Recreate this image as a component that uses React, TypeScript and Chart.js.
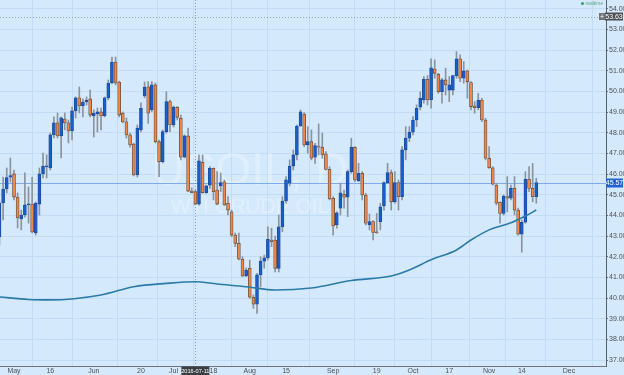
import React, { useEffect, useRef } from 'react';
import { Chart, registerables } from 'chart.js';

Chart.register(...registerables);

// ---- Data (daily candles, index 0 = 2016-04-26 ... index 148 = 2016-11-18) ----
const OPEN = [
  42.96, 44.60, 45.28, 45.85, 46.01, 44.89, 43.83, 44.02, 44.51, 44.55,
  43.15, 44.55, 46.01, 46.35, 46.30, 47.90, 48.48, 47.85, 48.67, 48.48,
  48.09, 49.06, 49.69, 49.30, 49.49, 49.64, 48.82, 48.91, 49.01, 48.82,
  49.69, 50.41, 51.43, 50.46, 48.96, 48.53, 47.90, 47.46, 45.96, 48.14,
  49.78, 50.23, 49.11, 50.32, 47.57, 46.60, 48.06, 49.51, 48.38, 49.24,
  48.70, 46.82, 47.85, 45.18, 45.15, 44.55, 46.57, 45.10, 45.47, 46.28,
  45.23, 45.43, 45.63, 44.59, 44.18, 43.05, 42.65, 41.88, 41.07, 41.44,
  40.04, 39.70, 41.12, 41.79, 41.95, 42.81, 42.81, 41.44, 43.45, 44.70,
  45.56, 46.39, 46.93, 48.33, 48.91, 47.41, 47.57, 46.82, 47.36, 47.30,
  46.98, 46.23, 44.83, 43.54, 44.35, 45.02, 44.88, 46.12, 47.30, 45.68,
  46.04, 44.99, 43.55, 43.70, 43.21, 43.70, 44.46, 45.59, 46.07, 44.66,
  45.59, 44.91, 47.17, 47.74, 48.03, 48.62, 49.24, 49.59, 50.59, 49.59,
  51.09, 50.83, 49.99, 50.56, 50.07, 50.07, 50.77, 51.58, 50.64, 51.00,
  50.43, 49.31, 49.22, 49.59, 48.62, 46.77, 46.31, 45.47, 44.64, 44.10,
  44.91, 44.83, 45.31, 44.26, 43.09, 43.67, 45.75, 45.31, 44.91,
];
const HIGH = [
  44.70, 45.86, 46.30, 46.78, 46.20, 45.09, 44.26, 46.06, 45.38, 45.86,
  44.65, 46.30, 47.02, 46.93, 47.99, 48.77, 48.96, 48.77, 48.96, 48.62,
  49.25, 49.74, 50.22, 49.64, 49.74, 50.07, 49.11, 49.20, 49.20, 49.74,
  50.56, 51.67, 51.67, 50.50, 49.01, 48.72, 47.99, 47.50, 48.38, 49.45,
  50.46, 50.48, 50.48, 50.41, 47.65, 48.14, 49.99, 49.59, 49.30, 49.27,
  48.86, 47.90, 48.23, 45.33, 45.23, 46.93, 46.93, 45.47, 46.36, 46.30,
  46.12, 46.06, 45.72, 44.91, 44.26, 43.15, 43.15, 42.00, 41.46, 41.84,
  40.15, 41.20, 42.00, 42.08, 43.45, 43.38, 43.00, 44.02, 44.91, 45.88,
  46.69, 47.17, 48.38, 49.11, 48.98, 48.30, 48.14, 47.49, 48.43, 47.99,
  47.09, 46.36, 44.91, 44.18, 45.56, 45.23, 46.20, 47.74, 47.33, 46.52,
  46.12, 45.07, 44.07, 43.75, 44.10, 44.59, 45.63, 46.52, 46.20, 46.12,
  45.72, 47.33, 48.30, 48.30, 48.78, 49.35, 49.99, 50.72, 50.77, 51.58,
  51.53, 50.88, 50.64, 51.13, 50.72, 50.80, 51.93, 51.77, 51.45, 51.04,
  50.48, 49.51, 49.91, 49.67, 48.70, 47.33, 46.36, 45.56, 44.66, 44.99,
  45.88, 45.47, 45.88, 44.35, 43.78, 46.12, 46.36, 46.52, 45.80,
];
const LOW = [
  42.57, 43.78, 45.09, 45.62, 44.75, 43.39, 43.30, 43.92, 43.63, 43.15,
  43.05, 44.02, 45.81, 45.81, 46.20, 47.75, 47.75, 46.78, 48.14, 47.51,
  47.65, 48.72, 48.96, 48.77, 49.35, 48.77, 47.80, 48.04, 48.14, 48.77,
  49.59, 50.37, 50.32, 48.77, 48.48, 47.75, 47.31, 45.91, 45.86, 48.04,
  49.69, 48.46, 49.02, 47.51, 45.88, 46.54, 47.98, 48.06, 48.28, 48.62,
  46.69, 46.78, 45.15, 45.09, 44.51, 44.50, 45.07, 45.07, 45.31, 44.75,
  44.51, 45.15, 44.48, 44.02, 42.97, 42.49, 41.84, 41.03, 41.03, 39.99,
  39.50, 39.26, 40.55, 41.44, 41.84, 42.49, 41.26, 41.26, 43.21, 44.59,
  45.43, 46.20, 46.69, 48.30, 47.33, 47.01, 46.69, 46.52, 46.93, 46.77,
  46.20, 44.75, 43.05, 43.38, 44.02, 44.35, 43.94, 46.04, 45.63, 45.63,
  44.75, 43.54, 43.30, 42.81, 43.13, 43.30, 44.26, 45.56, 44.26, 44.59,
  44.26, 44.75, 46.69, 47.57, 47.90, 48.30, 49.11, 49.43, 49.35, 49.19,
  50.64, 49.91, 49.43, 49.83, 49.51, 49.83, 50.64, 50.48, 50.40, 49.67,
  49.11, 48.95, 49.11, 48.54, 46.69, 46.28, 45.47, 44.51, 43.62, 44.02,
  44.17, 44.75, 44.02, 43.05, 42.22, 43.62, 45.15, 44.66, 44.59,
];
const CLOSE = [
  44.60, 45.28, 45.83, 45.93, 44.89, 43.88, 44.02, 44.51, 44.55, 43.20,
  44.60, 46.01, 46.39, 46.40, 47.90, 48.48, 47.85, 48.72, 48.48, 48.09,
  49.06, 49.69, 49.30, 49.49, 49.59, 48.86, 48.96, 49.01, 48.82, 49.69,
  50.41, 51.43, 50.41, 48.86, 48.53, 47.90, 47.41, 45.96, 48.23, 49.19,
  50.21, 48.95, 50.32, 47.57, 46.60, 48.06, 49.51, 48.38, 49.24, 48.75,
  46.82, 47.85, 45.18, 45.10, 44.55, 46.64, 45.10, 45.43, 46.28, 45.15,
  44.55, 45.59, 44.51, 44.26, 43.05, 42.65, 41.88, 41.07, 41.36, 40.04,
  39.70, 41.12, 41.79, 41.95, 42.84, 42.73, 41.44, 43.45, 44.70, 45.72,
  46.39, 46.93, 48.33, 49.02, 47.41, 47.57, 46.77, 47.38, 47.30, 46.93,
  46.23, 44.80, 43.49, 44.13, 45.10, 44.88, 46.12, 47.30, 45.72, 46.04,
  44.99, 43.62, 43.70, 43.18, 43.16, 44.42, 45.59, 46.07, 44.66, 45.59,
  44.91, 47.17, 47.74, 48.03, 48.62, 49.19, 49.67, 50.59, 49.59, 51.15,
  50.88, 49.99, 50.56, 50.32, 50.32, 50.77, 51.58, 50.64, 51.00, 50.48,
  49.27, 49.22, 49.59, 48.62, 46.77, 46.31, 45.51, 44.59, 44.10, 44.94,
  44.83, 45.31, 44.26, 43.09, 43.67, 45.75, 45.31, 44.91, 45.59,
];

// 200-period moving average, read at selected candle indices
const MA_INDEX = [0, 8, 14, 28, 37, 46, 54, 60, 68, 76, 86, 97, 108, 113, 119, 126, 130, 135, 141, 145, 148];
const MA_VALUE = [40.05, 39.93, 39.91, 40.15, 40.55, 40.71, 40.79, 40.68, 40.55, 40.39, 40.49, 40.85, 41.07, 41.36, 41.85, 42.33, 42.81, 43.30, 43.64, 43.97, 44.26];

const X_TICK_INDEX = [4, 14, 26, 39, 48, 59, 69, 79, 92, 104, 114, 124, 135, 144, 157];
const X_TICK_LABEL = ['May', '16', 'Jun', '20', 'Jul', '18', 'Aug', '15', 'Sep', '19', 'Oct', '17', 'Nov', '14', 'Dec'];
const Y_TICKS = [37, 38, 39, 40, 41, 42, 43, 44, 45, 46, 47, 48, 49, 50, 51, 52, 53, 54];

const X_MIN = 0.14;
const X_MAX = 167.22;
const Y_MIN = 36.71;
const Y_MAX = 54.43;

const LAST_PRICE = 45.57;
const MARK_PRICE = 53.63;
const CROSS_INDEX = 54;
const CROSS_LABEL = '2016-07-11';
const WATERMARK = 'USOIL, D';
const WATERMARK_SUB = 'WTI CRUDE OIL';

// ---- Styles ----
const BG = '#d5e9fd';
const GRID = '#c2dcf6';
const UP_FILL = '#1c5cc6';
const UP_BORDER = '#174a9e';
const DOWN_FILL = '#f0874a';
const DOWN_BORDER = '#66503f';
const WICK = '#8b939c';
const MA_COLOR = '#2b7ba6';
const FONT = '"Liberation Sans", Arial, sans-serif';
const TEXT = '#4c4f54';

const overlay = {
  id: 'overlay',
  beforeDatasetsDraw(chart: any) {
    const { ctx, chartArea: a, scales } = chart;
    const x = scales.x;
    const y = scales.y;
    ctx.save();
    // watermark
    const cx = a.left + 250;
    ctx.fillStyle = 'rgba(255,255,255,0.28)';
    ctx.textAlign = 'center';
    ctx.textBaseline = 'alphabetic';
    ctx.font = `46px ${FONT}`;
    ctx.fillText(WATERMARK, cx, 185);
    ctx.font = `21px ${FONT}`;
    ctx.fillText(WATERMARK_SUB, cx, 213);

    // last price line
    const py = Math.round(y.getPixelForValue(LAST_PRICE)) + 0.5;
    ctx.strokeStyle = '#7eaaec';
    ctx.lineWidth = 1;
    ctx.beginPath();
    ctx.moveTo(a.left, py);
    ctx.lineTo(a.right, py);
    ctx.stroke();

    // mark line
    const my = Math.round(y.getPixelForValue(MARK_PRICE)) + 0.5;
    ctx.strokeStyle = '#9aa3ad';
    ctx.setLineDash([1, 2]);
    ctx.beginPath();
    ctx.moveTo(a.left, my);
    ctx.lineTo(a.right, my);
    ctx.stroke();

    // crosshair
    const cxp = Math.round(x.getPixelForValue(CROSS_INDEX)) + 0.5;
    ctx.strokeStyle = 'rgba(110,120,132,0.7)';
    ctx.beginPath();
    ctx.moveTo(cxp, a.top);
    ctx.lineTo(cxp, a.bottom);
    ctx.stroke();
    ctx.restore();
  },
  afterDraw(chart: any) {
    const { ctx, chartArea: a, scales } = chart;
    const x = scales.x;
    const y = scales.y;
    ctx.save();
    ctx.textBaseline = 'middle';
    ctx.textAlign = 'center';
    ctx.font = `7px ${FONT}`;

    // last price box
    const py = y.getPixelForValue(LAST_PRICE);
    ctx.fillStyle = '#2163d6';
    ctx.fillRect(a.right, py - 4.5, 17, 9);
    ctx.fillStyle = '#ffffff';
    ctx.fillText(LAST_PRICE.toFixed(2), a.right + 8.5, py + 0.5);

    // mark price box
    const my = y.getPixelForValue(MARK_PRICE);
    ctx.fillStyle = '#6e7379';
    ctx.fillRect(a.right - 7, my - 3.5, 6, 7);
    ctx.fillStyle = '#4b4f55';
    ctx.fillRect(a.right - 1, my - 4, 18, 8);
    ctx.fillStyle = '#ffffff';
    ctx.fillText('+', a.right - 4, my + 0.5);
    ctx.fillText(MARK_PRICE.toFixed(2), a.right + 8, my + 0.5);

    // crosshair date label
    const cxp = x.getPixelForValue(CROSS_INDEX);
    ctx.font = `5.6px ${FONT}`;
    ctx.fillStyle = '#3b3e43';
    ctx.fillRect(cxp - 14, a.bottom + 0.5, 28, 9);
    ctx.fillStyle = '#ffffff';
    ctx.fillText(CROSS_LABEL, cxp, a.bottom + 5);

    // realtime marker
    ctx.fillStyle = '#2fa86a';
    ctx.beginPath();
    ctx.arc(582.5, 3.5, 1.6, 0, Math.PI * 2);
    ctx.fill();
    ctx.fillStyle = '#5aa882';
    ctx.textAlign = 'left';
    ctx.font = `5px ${FONT}`;
    ctx.fillText('realtime', 585.5, 3.8);
    ctx.restore();
  },
};

export default function App() {
  const ref = useRef<HTMLCanvasElement>(null);
  useEffect(() => {
    document.body.style.margin = '0';
    const idx = OPEN.map((_, i) => i);
    const up = idx.map((i) => CLOSE[i] >= OPEN[i]);
    const chart = new Chart(ref.current as HTMLCanvasElement, {
      type: 'bar',
      data: {
        datasets: [
          {
            type: 'line',
            data: MA_INDEX.map((v, k) => ({ x: v, y: MA_VALUE[k] })),
            borderColor: MA_COLOR,
            borderWidth: 1.6,
            pointRadius: 0,
            cubicInterpolationMode: 'monotone',
            order: 0,
          } as any,
          {
            type: 'bar',
            data: idx.map((i) => ({ x: i, y: [OPEN[i], CLOSE[i]] })),
            backgroundColor: up.map((u) => (u ? UP_FILL : DOWN_FILL)),
            borderColor: up.map((u) => (u ? UP_BORDER : DOWN_BORDER)),
            borderWidth: 0.8,
            borderSkipped: false,
            barThickness: 3,
            grouped: false,
            minBarLength: 1,
            order: 1,
          } as any,
          {
            type: 'bar',
            data: idx.map((i) => ({ x: i, y: [LOW[i], HIGH[i]] })),
            backgroundColor: WICK,
            borderWidth: 0,
            barThickness: 1,
            grouped: false,
            order: 2,
          } as any,
        ],
      },
      options: {
        animation: false,
        responsive: true,
        maintainAspectRatio: false,
        events: [],
        layout: { padding: 0 },
        plugins: { legend: { display: false }, tooltip: { enabled: false } },
        scales: {
          x: {
            type: 'linear',
            min: X_MIN,
            max: X_MAX,
            offset: false,
            afterBuildTicks: (s: any) => {
              s.ticks = X_TICK_INDEX.map((v) => ({ value: v }));
            },
            afterFit: (s: any) => {
              s.height = 9;
              s.paddingLeft = 0;
              s.paddingRight = 0;
            },
            ticks: {
              autoSkip: false,
              maxRotation: 0,
              padding: 1,
              color: TEXT,
              font: { size: 7, family: FONT },
              callback: (_v: any, i: number) => X_TICK_LABEL[i],
            },
            grid: { color: GRID, drawTicks: false },
            border: { color: '#6f757c' },
          },
          y: {
            position: 'right',
            min: Y_MIN,
            max: Y_MAX,
            afterBuildTicks: (s: any) => {
              s.ticks = Y_TICKS.map((v) => ({ value: v }));
            },
            afterFit: (s: any) => {
              s.width = 18;
              s.paddingTop = 0;
              s.paddingBottom = 0;
            },
            ticks: {
              padding: 1,
              color: TEXT,
              font: { size: 7, family: FONT },
              callback: (v: any) => Number(v).toFixed(2),
            },
            grid: { color: GRID, tickLength: 2, tickColor: '#6f757c' },
            border: { color: '#5b6067' },
          },
        },
      } as any,
      plugins: [overlay],
    });
    return () => chart.destroy();
  }, []);
  return (
    <div style={{ position: 'fixed', left: 0, top: 0, width: 624, height: 375, background: BG }}>
      <canvas ref={ref} />
    </div>
  );
}
